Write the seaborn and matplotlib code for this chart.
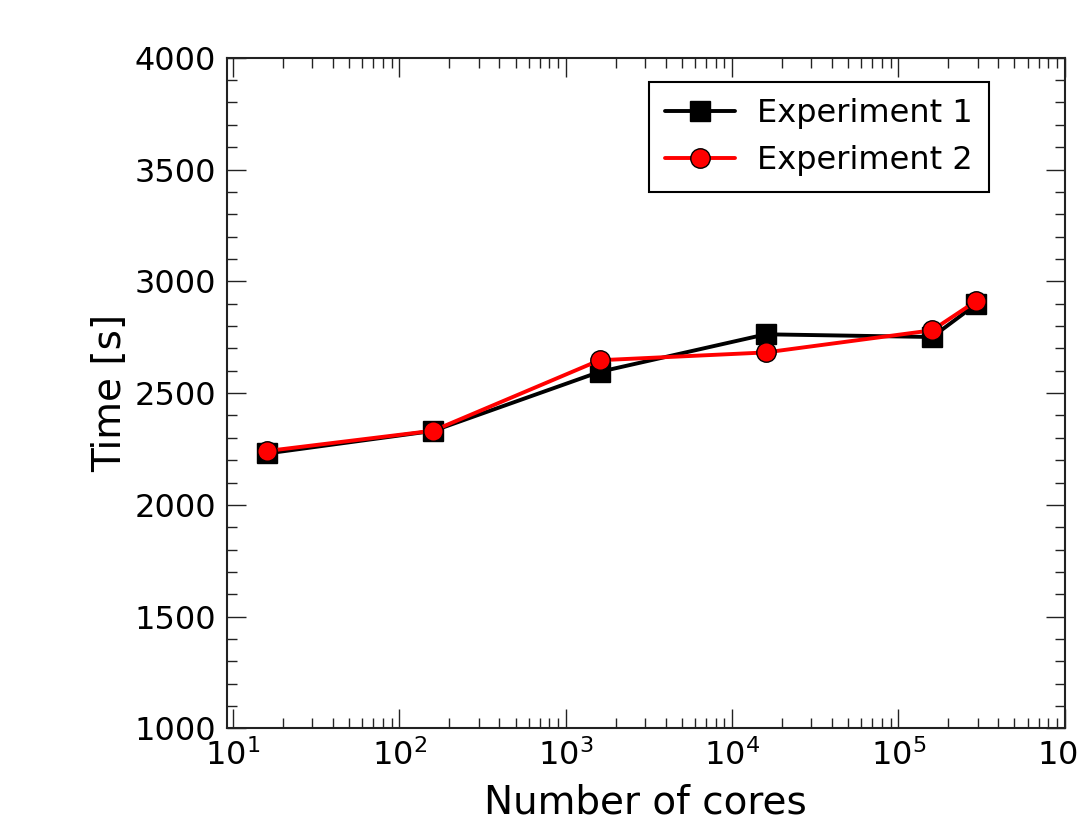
import matplotlib
matplotlib.use('Agg')
import matplotlib.pyplot as plt
from matplotlib.ticker import MultipleLocator
import seaborn as sns
import pandas as pd

# Data
cores = [16, 160, 1600, 16000, 160000, 294912]
time_exp1 = [2230, 2331, 2595, 2763, 2751, 2898]
time_exp2 = [2241, 2332, 2647, 2682, 2781, 2912]
labels = ["Experiment 1", "Experiment 2"]

df = pd.DataFrame({
    "cores": cores * 2,
    "time": time_exp1 + time_exp2,
    "experiment": [labels[0]] * len(cores) + [labels[1]] * len(cores),
})

sns.set_style("ticks")
plt.rcParams['font.family'] = ['DejaVu Sans']
plt.rcParams['mathtext.fontset'] = 'dejavusans'
plt.rcParams['text.color'] = 'black'
plt.rcParams['axes.labelcolor'] = 'black'
plt.rcParams['xtick.labelcolor'] = 'black'
plt.rcParams['ytick.labelcolor'] = 'black'

fig = plt.figure(figsize=(10.78, 8.25), dpi=100)
ax = fig.add_axes([0.2105, 0.117, 0.777, 0.813])

sns.lineplot(data=df, x="cores", y="time", hue="experiment", style="experiment",
             palette={labels[0]: "black", labels[1]: "red"},
             markers={labels[0]: "s", labels[1]: "o"}, dashes=False,
             linewidth=2.8, markersize=14, markeredgecolor="black",
             markeredgewidth=1, legend=False, ax=ax)

ax.set_xscale("log")
ax.set_xlim(9.2, 1e6)
ax.set_ylim(1000, 4000)
ax.yaxis.set_major_locator(MultipleLocator(500))
ax.yaxis.set_minor_locator(MultipleLocator(100))

ax.tick_params(which="both", direction="in", top=True, right=True,
               labelsize=23, width=1, color="#222222", labelcolor="black")
ax.tick_params(which="major", length=14, pad=8)
ax.tick_params(which="minor", length=7)
for s in ax.spines.values():
    s.set_linewidth(1.5)
    s.set_color("#222222")

ax.set_xlabel("Number of cores", fontsize=28, labelpad=8, color="black")
ax.set_ylabel("Time [s]", fontsize=28, labelpad=4, color="black")

leg = ax.legend(handles=ax.lines[:2], labels=labels, loc="upper right",
                bbox_to_anchor=(0.910, 0.964), borderaxespad=0,
                fontsize=23, fancybox=False, framealpha=1,
                edgecolor="black", handlelength=2.2, handletextpad=0.7,
                borderpad=0.5, labelspacing=0.5)
leg.get_frame().set_linewidth(1.5)
for t in leg.get_texts():
    t.set_color("black")

fig.savefig("out.png", dpi=100)
